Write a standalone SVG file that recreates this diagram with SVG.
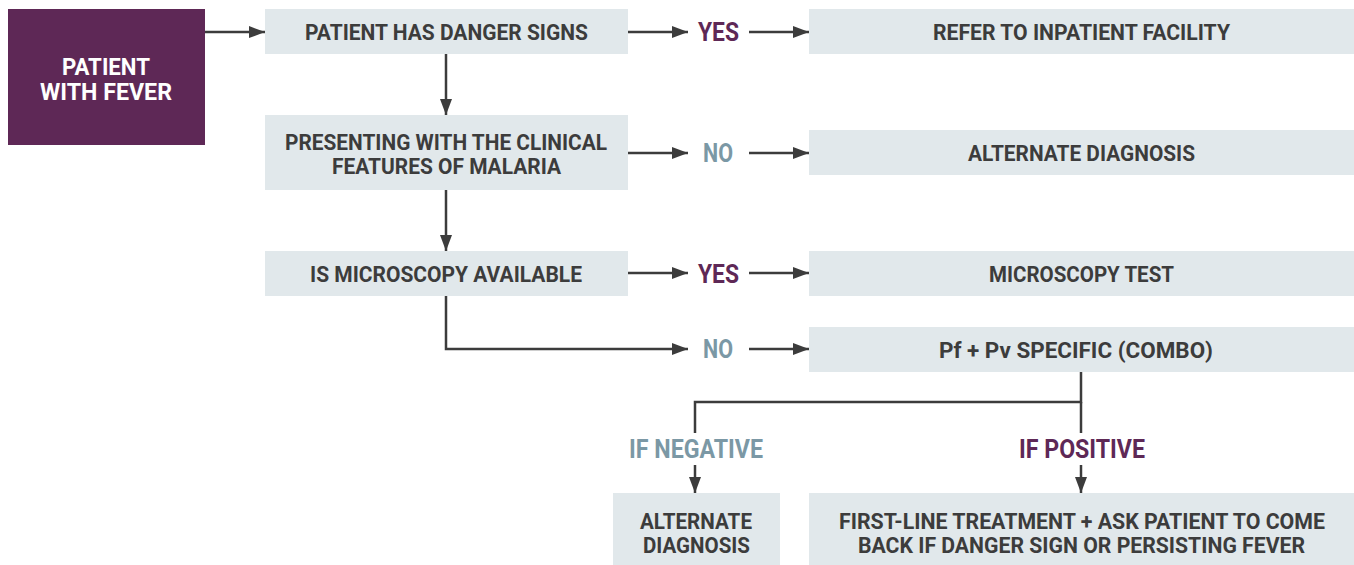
<svg xmlns="http://www.w3.org/2000/svg" width="1354" height="565" viewBox="0 0 1354 565">
<style>
.box{fill:#E1E8EB}
.start{fill:#5E2856}
.t{font-family:Roboto,"Liberation Sans",sans-serif;font-weight:bold;font-size:22px;fill:#3C3C3C;text-anchor:middle}
.w{fill:#FFFFFF;font-size:23px}
.yes{fill:#5E2856;font-size:25px}
.no{fill:#7B98A5;font-size:25px}
.c{fill:none;stroke:#3C3C3C;stroke-width:2.5}
</style>
<defs>
<marker id="ah" markerUnits="userSpaceOnUse" markerWidth="16" markerHeight="12" refX="16" refY="6" orient="auto">
<path d="M0,0 L16,6 L0,12 z" fill="#3C3C3C"/>
</marker>
</defs>
<rect width="1354" height="565" fill="#FFFFFF"/>
<g id="connectors">
<path class="c" d="M205,32 H265" marker-end="url(#ah)"/>
<path class="c" d="M628,32 H688" marker-end="url(#ah)"/>
<path class="c" d="M749,32 H809" marker-end="url(#ah)"/>
<path class="c" d="M446,54 V115" marker-end="url(#ah)"/>
<path class="c" d="M628,153 H688" marker-end="url(#ah)"/>
<path class="c" d="M749,153 H809" marker-end="url(#ah)"/>
<path class="c" d="M446,190 V251" marker-end="url(#ah)"/>
<path class="c" d="M628,273 H688" marker-end="url(#ah)"/>
<path class="c" d="M749,273 H809" marker-end="url(#ah)"/>
<path class="c" d="M446,296 V349 H688" marker-end="url(#ah)"/>
<path class="c" d="M749,349 H809" marker-end="url(#ah)"/>
<path class="c" d="M1081,372 V402 H695 V433"/>
<path class="c" d="M1081,402 V433"/>
<path class="c" d="M695,465 V493" marker-end="url(#ah)"/>
<path class="c" d="M1081,465 V493" marker-end="url(#ah)"/>
</g>
<g id="start">
<rect class="start" x="8" y="9" width="197" height="136"/>
<text class="t w" x="106" y="75" textLength="88" lengthAdjust="spacingAndGlyphs">PATIENT</text>
<text class="t w" x="106" y="100" textLength="132" lengthAdjust="spacingAndGlyphs">WITH FEVER</text>
</g>
<g id="danger">
<rect class="box" x="265" y="9" width="363" height="45"/>
<text class="t" x="446.5" y="40" textLength="283" lengthAdjust="spacingAndGlyphs">PATIENT HAS DANGER SIGNS</text>
</g>
<g id="yes1"><text class="t yes" x="718.5" y="41" textLength="41" lengthAdjust="spacingAndGlyphs">YES</text></g>
<g id="refer">
<rect class="box" x="809" y="9" width="545" height="45"/>
<text class="t" x="1081.5" y="40" textLength="297" lengthAdjust="spacingAndGlyphs">REFER TO INPATIENT FACILITY</text>
</g>
<g id="clinical">
<rect class="box" x="265" y="115" width="363" height="75"/>
<text class="t" x="446" y="150" textLength="322" lengthAdjust="spacingAndGlyphs">PRESENTING WITH THE CLINICAL</text>
<text class="t" x="446.5" y="174" textLength="229" lengthAdjust="spacingAndGlyphs">FEATURES OF MALARIA</text>
</g>
<g id="no1"><text class="t no" x="718" y="162" textLength="30" lengthAdjust="spacingAndGlyphs">NO</text></g>
<g id="alt1">
<rect class="box" x="809" y="130" width="545" height="45"/>
<text class="t" x="1081.5" y="161" textLength="227" lengthAdjust="spacingAndGlyphs">ALTERNATE DIAGNOSIS</text>
</g>
<g id="microscopy">
<rect class="box" x="265" y="251" width="363" height="45"/>
<text class="t" x="446" y="282" textLength="272" lengthAdjust="spacingAndGlyphs">IS MICROSCOPY AVAILABLE</text>
</g>
<g id="yes2"><text class="t yes" x="718.5" y="283" textLength="41" lengthAdjust="spacingAndGlyphs">YES</text></g>
<g id="mtest">
<rect class="box" x="809" y="251" width="545" height="45"/>
<text class="t" x="1081.5" y="282" textLength="185" lengthAdjust="spacingAndGlyphs">MICROSCOPY TEST</text>
</g>
<g id="no2"><text class="t no" x="718" y="358" textLength="30" lengthAdjust="spacingAndGlyphs">NO</text></g>
<g id="combo">
<rect class="box" x="809" y="327" width="545" height="45"/>
<text class="t" x="1076" y="358" textLength="274" lengthAdjust="spacingAndGlyphs">Pf + Pv SPECIFIC (COMBO)</text>
</g>
<g id="ifneg"><text class="t no" x="696" y="458" textLength="134" lengthAdjust="spacingAndGlyphs">IF NEGATIVE</text></g>
<g id="ifpos"><text class="t yes" x="1082" y="458" textLength="126" lengthAdjust="spacingAndGlyphs">IF POSITIVE</text></g>
<g id="alt2">
<rect class="box" x="613" y="493" width="167" height="72"/>
<text class="t" x="696" y="529" textLength="112" lengthAdjust="spacingAndGlyphs">ALTERNATE</text>
<text class="t" x="696.5" y="553" textLength="107" lengthAdjust="spacingAndGlyphs">DIAGNOSIS</text>
</g>
<g id="treatment">
<rect class="box" x="809" y="493" width="545" height="72"/>
<text class="t" x="1082" y="529" textLength="486" lengthAdjust="spacingAndGlyphs">FIRST-LINE TREATMENT + ASK PATIENT TO COME</text>
<text class="t" x="1081.5" y="553" textLength="447" lengthAdjust="spacingAndGlyphs">BACK IF DANGER SIGN OR PERSISTING FEVER</text>
</g>
</svg>
